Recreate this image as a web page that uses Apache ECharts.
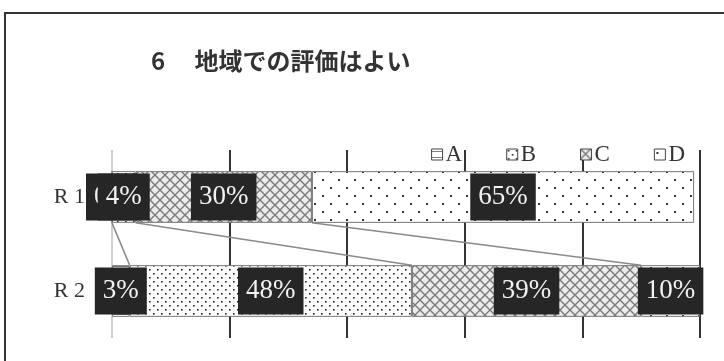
<!DOCTYPE html>
<html>
<head>
<meta charset="utf-8">
<script src="https://cdn.jsdelivr.net/npm/echarts@6/dist/echarts.min.js"></script>
<style>
  html, body { margin: 0; padding: 0; background: #fff; }
  #c1 { width: 724px; height: 361px; }
</style>
</head>
<body>
<div id="c1"></div>
<script>
// 数据
const categories = ["R 1", "R 2"];
const seriesNames = ["A", "B", "C", "D"];
const valA = [0, 3];
const valB = [4, 48];
const valC = [30, 39];
const valD = [65, 10];
const tickInterval = 20;

// 模様 (canvas pattern)
function makePattern(w, h, draw) {
  let c = document.createElement("canvas");
  c.width = w;
  c.height = h;
  let ctx = c.getContext("2d");
  ctx.fillStyle = "#fff";
  ctx.fillRect(0, 0, w, h);
  draw(ctx);
  return { image: c, repeat: "repeat" };
}
const patA = makePattern(6, 6, (ctx) => {
  ctx.fillStyle = "#777";
  ctx.fillRect(0, 2, 6, 1);
});
const patB = makePattern(8, 8, (ctx) => {
  ctx.fillStyle = "#222";
  ctx.fillRect(1, 1, 1.6, 1.6);
  ctx.fillRect(5, 5, 1.6, 1.6);
});
const patC = makePattern(10, 10, (ctx) => {
  ctx.fillStyle = "#ececec";
  ctx.fillRect(0, 0, 10, 10);
  ctx.strokeStyle = "#7a7a7a";
  ctx.lineWidth = 1.4;
  ctx.beginPath();
  ctx.moveTo(0, 0); ctx.lineTo(10, 10);
  ctx.moveTo(10, 0); ctx.lineTo(0, 10);
  ctx.stroke();
});
const patD = makePattern(16, 16, (ctx) => {
  ctx.fillStyle = "#333";
  ctx.fillRect(2, 3, 2, 2);
  ctx.fillRect(10, 11, 2, 2);
});
const patterns = [patA, patB, patC, patD];
const values = [valA, valB, valC, valD];

const barRatio = 0.55;

let myChart = echarts.init(document.getElementById("c1"));

let series = seriesNames.map((name, i) => ({
  name: name,
  type: "bar",
  stack: "total",
  barWidth: barRatio * 100 + "%",
  data: values[i],
  itemStyle: {
    color: patterns[i],
    borderColor: "#777",
    borderWidth: 1,
  },
  label: {
    show: true,
    position: "inside",
    formatter: "{c}%",
    color: "#f2f2f2",
    backgroundColor: "#262626",
    fontFamily: "Liberation Serif",
    fontSize: 27,
    lineHeight: 27,
    padding: [10, 8],
  },
}));

// 区切り線 (R1の下端からR2の上端まで)
let cum1 = [], cum2 = [];
let s1 = 0, s2 = 0;
for (let i = 0; i < values.length - 1; i++) {
  s1 += values[i][0];
  s2 += values[i][1];
  cum1.push(s1);
  cum2.push(s2);
}
series.push({
  type: "custom",
  silent: true,
  z: 1,
  data: cum1.map((v, i) => [v, cum2[i]]),
  renderItem: function (params, api) {
    let p1 = api.coord([api.value(0), 0]);
    let p2 = api.coord([api.value(1), 1]);
    let half = (api.size([0, 1])[1] * barRatio) / 2;
    return {
      type: "line",
      shape: { x1: p1[0], y1: p1[1] + half, x2: p2[0], y2: p2[1] - half },
      style: { stroke: "#8a8a8a", lineWidth: 1.5 },
    };
  },
});

let option = {
  animation: false,
  backgroundColor: "#fff",
  title: {
    text: "6\u3000 地域での評価はよい",
    left: 146,
    top: 44,
    textStyle: {
      fontFamily: "Noto Sans CJK JP",
      fontSize: 24,
      fontWeight: "bold",
      color: "#333",
    },
  },
  legend: {
    data: seriesNames,
    right: 34,
    top: 138,
    itemWidth: 11,
    itemHeight: 11,
    itemGap: 44,
    icon: "rect",
    textStyle: {
      fontFamily: "Liberation Serif",
      fontSize: 23,
      color: "#333",
      padding: [0, 0, 0, -2],
    },
    itemStyle: { borderColor: "#444", borderWidth: 1 },
  },
  grid: { left: 112, right: 24, top: 150, bottom: 23 },
  xAxis: {
    type: "value",
    min: 0,
    max: 100,
    interval: tickInterval,
    axisLabel: { show: false },
    axisLine: { show: false },
    axisTick: { show: false },
    splitLine: {
      show: true,
      lineStyle: {
        color: ["#cfcfcf", "#333", "#333", "#333", "#333", "#333"],
        width: 2,
      },
    },
  },
  yAxis: {
    type: "category",
    inverse: true,
    data: categories,
    axisLine: { show: false },
    axisTick: { show: false },
    axisLabel: {
      margin: 27,
      fontFamily: "Liberation Serif",
      fontSize: 22,
      color: "#333",
    },
  },
  graphic: [
    {
      type: "rect",
      shape: { x: 5, y: 13, width: 800, height: 400 },
      style: { fill: null, stroke: "#333", lineWidth: 2 },
      silent: true,
    },
  ],
  series: series,
};
myChart.setOption(option);
</script>
</body>
</html>
